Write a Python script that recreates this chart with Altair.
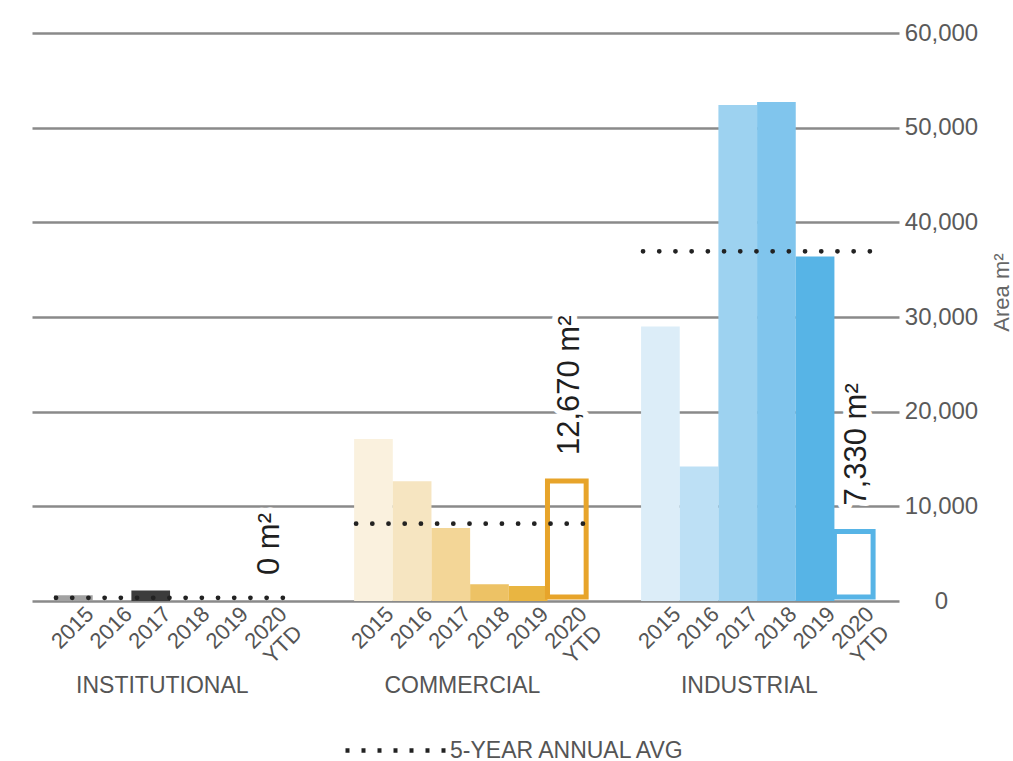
import altair as alt
import pandas as pd

# ---- data -------------------------------------------------------------
GROUPS = ["INSTITUTIONAL", "COMMERCIAL", "INDUSTRIAL"]
YEARS = ["2015", "2016", "2017", "2018", "2019", "2020\nYTD"]
INSTITUTIONAL = [600, 0, 1100, 0, 0, 0]
COMMERCIAL = [17100, 12650, 7720, 1770, 1590, 12670]
INDUSTRIAL = [29000, 14200, 52400, 52700, 36400, 7330]
Y_TICKS = [0, 10000, 20000, 30000, 40000, 50000, 60000]
AVG_LABEL = "5-YEAR ANNUAL AVG"
UNIT = "m\u00b2"

# ---- styling ------------------------------------------------------------
# one shade per year (light -> dark); the last entry strokes the YTD outline
PALETTES = {
    "INSTITUTIONAL": ["#a2a2a2", "#707070", "#3c3c3c", "#2c2c2c", "#1e1e1e", "#9a9a9a"],
    "COMMERCIAL": ["#faf1de", "#f6e5c1", "#f3d697", "#edc265", "#e9b541", "#e7a42a"],
    "INDUSTRIAL": ["#dcedf8", "#bde0f5", "#9dd2f0", "#80c5ed", "#57b4e6", "#57b4e6"],
}
FONT = "Liberation Sans"
TEXT_GREY = "#555555"

# horizontal layout, measured in bar widths
GROUP_START = [0.57, 8.33, 15.75]
X_EXTENT = 22.42

series = {"INSTITUTIONAL": INSTITUTIONAL, "COMMERCIAL": COMMERCIAL, "INDUSTRIAL": INDUSTRIAL}

rows = []
for gi, g in enumerate(GROUPS):
    for yi, yr in enumerate(YEARS):
        x0 = GROUP_START[gi] + yi
        v = series[g][yi]
        rows.append({
            "group": g, "year": yr, "value": v,
            "x0": x0, "x1": x0 + 1, "xc": x0 + 0.5,
            "ytd": yi == len(YEARS) - 1,
            "color": PALETTES[g][yi],
            "label": f"{v:,} {UNIT}",
        })
df = pd.DataFrame(rows)

full = df[~df["ytd"]]
ytd = df[df["ytd"]]

avg_rows = []
for gi, g in enumerate(GROUPS):
    vals = series[g][:5]
    avg_rows.append({
        "group": g,
        "avg": sum(vals) / len(vals),
        "xs": GROUP_START[gi] + 0.05,
        "xe": GROUP_START[gi] + len(YEARS) + 0.15,
        "key": AVG_LABEL,
    })
avg_df = pd.DataFrame(avg_rows)

grp_df = pd.DataFrame({"group": GROUPS, "xg": [s + 2.8 for s in GROUP_START]})

# ---- scales -------------------------------------------------------------
xscale = alt.Scale(domain=[0, X_EXTENT], nice=False, zero=False)
yscale = alt.Scale(domain=[0, 60000], nice=False)

yaxis = alt.Axis(
    orient="right", values=Y_TICKS, format=",.0f", title=f"Area {UNIT}",
    grid=True, gridColor="#8a8a8a", gridWidth=2.6,
    domain=False, ticks=False, tickSize=0,
    labelFontSize=24, labelColor="#5a5a5a", labelAlign="center",
    labelPadding=42, labelBaseline="middle",
    titleFontSize=22, titleColor="#666666", titleFontWeight="normal",
    titleAngle=270, titleX=109, titleY=259, titleAlign="center",
    titleBaseline="alphabetic",
)

X = lambda f: alt.X(f, type="quantitative", scale=xscale, axis=None)

bars = alt.Chart(full).mark_rect().encode(
    x=X("x0"), x2="x1",
    y=alt.Y("value:Q", scale=yscale, axis=yaxis), y2=alt.datum(0),
    color=alt.Color("color:N", scale=None),
)

outline = alt.Chart(ytd).transform_filter("datum.value > 0").mark_rect(
    fillOpacity=0, strokeWidth=5, y2Offset=-4
).encode(
    x=X("x0"), x2="x1",
    y=alt.Y("value:Q", scale=yscale), y2=alt.datum(0),
    stroke=alt.Stroke("color:N", scale=None),
)

avg = alt.Chart(avg_df).mark_rule(
    strokeDash=[0.1, 16.1], strokeCap="round", strokeWidth=4.7
).encode(
    x=X("xs"), x2="xe",
    y=alt.Y("avg:Q", scale=yscale),
    color=alt.Color("key:N", scale=alt.Scale(range=["#222222"]), legend=alt.Legend(
        title=None, orient="none", legendX=311, legendY=665, padding=0,
        symbolType="stroke", symbolSize=10000, symbolStrokeWidth=4.5,
        symbolDash=[4, 12], labelFontSize=23, labelColor=TEXT_GREY,
        labelOffset=2, labelFont=FONT, labelLimit=500,
    )),
)

value_text = dict(angle=270, align="left", baseline="alphabetic", dx=26, dy=12,
                  fontSize=31, font=FONT)
halo = alt.Chart(ytd).mark_text(
    color="white", stroke="white", strokeWidth=12, strokeJoin="round", **value_text
).encode(x=X("xc"), y=alt.Y("value:Q", scale=yscale), text="label:N")
values = alt.Chart(ytd).mark_text(color="#1f1f1f", **value_text).encode(
    x=X("xc"), y=alt.Y("value:Q", scale=yscale), text="label:N"
)

years = alt.Chart(df).mark_text(
    angle=315, align="center", baseline="alphabetic", lineBreak="\n", lineHeight=24,
    fontSize=22, color=TEXT_GREY, dx=-19.6, dy=25.4, font=FONT,
).encode(x=X("xc"), y=alt.datum(0), text="year:N")

groups = alt.Chart(grp_df).mark_text(
    fontSize=23, color=TEXT_GREY, baseline="middle", align="center", dy=85, font=FONT
).encode(x=X("xg"), y=alt.datum(0), text="group:N")

chart = alt.layer(bars, outline, avg, halo, values, years, groups).properties(
    width=867, height=568,
    autosize=alt.AutoSizeParams(type="none"),
    padding={"left": 32, "top": 33, "right": 114, "bottom": 160},
).configure(font=FONT).configure_view(stroke=None)

chart.save("out.html", embed_options={"renderer": "svg", "actions": False})
